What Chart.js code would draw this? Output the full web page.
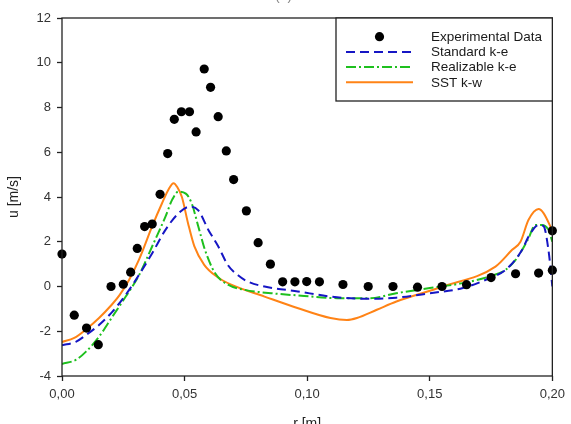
<!DOCTYPE html>
<html><head><meta charset="utf-8">
<script src="https://cdn.jsdelivr.net/npm/chart.js@4/dist/chart.umd.min.js"></script>
<style>html,body{margin:0;padding:0;background:#fff;overflow:hidden}#wrap{width:571px;height:424px}</style>
</head><body><div id="wrap"><canvas id="c" width="571" height="424"></canvas></div>
<script>
const seriesLabels = ['Experimental Data','Standard k-e','Realizable k-e','SST k-w'];
const chartTitle = '(a)';
const xAxisTitle = 'r [m]';
const yAxisTitle = 'u [m/s]';
const xTickValues = [0, 0.05, 0.10, 0.15, 0.20];
const xTickLabels = ['0,00','0,05','0,10','0,15','0,20'];
const yTickValues = [-4,-2,0,2,4,6,8,10,12];

const expX = [0,0.005,0.010,0.0148,0.020,0.025,0.028,0.0307,0.0337,0.0368,0.040,0.0431,0.0458,0.0487,0.052,0.0547,0.058,0.0606,0.0637,0.067,0.070,0.0752,0.080,0.085,0.090,0.095,0.0998,0.105,0.1146,0.1249,0.135,0.145,0.155,0.165,0.175,0.185,0.1944,0.200,0.200];
const expY = [1.45,-1.28,-1.86,-2.6,0,0.1,0.64,1.7,2.68,2.79,4.12,5.94,7.47,7.81,7.81,6.91,9.72,8.9,7.59,6.06,4.78,3.38,1.96,1.0,0.21,0.21,0.22,0.21,0.09,0,0,-0.03,0,0.08,0.4,0.57,0.6,0.73,2.49];

const stdX = [0,0.0058,0.0099,0.0152,0.0206,0.026,0.0314,0.0368,0.0422,0.0476,0.0523,0.0556,0.0597,0.0637,0.0677,0.0718,0.0758,0.0826,0.0962,0.1097,0.1232,0.1363,0.15,0.1635,0.1743,0.181,0.1877,0.1903,0.1944,0.1964,0.1984,0.200];
const stdY = [-2.63,-2.46,-2.16,-1.71,-1.12,-0.37,0.52,1.49,2.53,3.28,3.57,3.4,2.53,1.8,0.95,0.5,0.22,0.0,-0.22,-0.45,-0.55,-0.5,-0.3,-0.07,0.37,0.75,1.64,2.23,2.75,2.7,1.64,0.0];

const relX = [0,0.0058,0.0099,0.0152,0.0206,0.026,0.0314,0.0368,0.0422,0.0449,0.0475,0.0505,0.0529,0.0556,0.0583,0.0624,0.0677,0.0745,0.0853,0.0988,0.1122,0.1257,0.1363,0.15,0.1635,0.1743,0.181,0.185,0.1877,0.1903,0.193,0.1957,0.1984,0.200];
const relY = [-3.46,-3.27,-2.9,-2.23,-1.34,-0.45,0.5,1.8,3.12,3.87,4.24,4.15,3.72,2.68,1.64,0.6,0.08,-0.15,-0.3,-0.42,-0.52,-0.52,-0.3,-0.07,0.15,0.45,0.75,1.19,1.64,2.16,2.75,2.75,2.53,2.0];

const sstX = [0,0.005,0.010,0.015,0.020,0.0234,0.0274,0.0314,0.0368,0.0408,0.0435,0.0455,0.047,0.0489,0.0514,0.054,0.058,0.0637,0.069,0.0826,0.096,0.1095,0.1162,0.1203,0.1284,0.1364,0.1553,0.1768,0.1836,0.187,0.1903,0.1944,0.1964,0.200];
const sstY = [-2.48,-2.3,-1.9,-1.42,-0.85,-0.4,0.3,1.2,2.7,3.72,4.35,4.62,4.45,4.0,2.83,1.79,0.97,0.4,0.08,-0.45,-0.96,-1.41,-1.5,-1.41,-1.04,-0.67,0,0.89,1.64,2.0,2.98,3.46,3.28,2.5];

const pts = (xs, ys) => xs.map((x, i) => ({x: x, y: ys[i]}));
const FONT = 'Liberation Sans, Arial, sans-serif';

const framePlugin = {
  id: 'frameAndLegend',
  afterDraw(chart) {
    const ctx = chart.ctx, a = chart.chartArea;
    ctx.save();
    ctx.strokeStyle = '#222'; ctx.lineWidth = 1.3;
    ctx.strokeRect(a.left, a.top, a.right - a.left, a.bottom - a.top);
    // titles
    ctx.fillStyle = '#888'; ctx.font = '14px ' + FONT; ctx.textAlign = 'center'; ctx.textBaseline = 'alphabetic';
    ctx.fillText(chartTitle, 283.5, -0.5);
    ctx.fillStyle = '#222';
    ctx.fillText(xAxisTitle, (a.left + a.right) / 2, 428);
    ctx.save(); ctx.translate(14.5, (a.top + a.bottom) / 2); ctx.rotate(-Math.PI / 2);
    ctx.textBaseline = 'middle'; ctx.fillText(yAxisTitle, 0, 0); ctx.restore();
    // legend box
    const bx = 336, by = a.top, bw = a.right - bx, bh = 83;
    ctx.fillStyle = '#fff'; ctx.fillRect(bx, by, bw, bh);
    ctx.strokeStyle = '#222'; ctx.lineWidth = 1.3; ctx.strokeRect(bx, by, bw, bh);
    const ds = chart.data.datasets;
    for (let i = 0; i < ds.length; i++) {
      const y = by + 18.7 + i * 15.2;
      if (i === 0) {
        ctx.beginPath(); ctx.fillStyle = '#000'; ctx.arc(379.5, y, 4.6, 0, Math.PI * 2); ctx.fill();
      } else {
        ctx.beginPath(); ctx.strokeStyle = ds[i].borderColor; ctx.lineWidth = ds[i].borderWidth;
        ctx.setLineDash(ds[i].borderDash || []); ctx.moveTo(346, y); ctx.lineTo(413, y); ctx.stroke(); ctx.setLineDash([]);
      }
      ctx.fillStyle = '#1a1a1a'; ctx.font = '13.5px ' + FONT; ctx.textAlign = 'left'; ctx.textBaseline = 'middle';
      ctx.fillText(ds[i].label, 431, y + 0.5);
    }
    ctx.restore();
  }
};

new Chart(document.getElementById('c'), {
  type: 'scatter',
  data: { datasets: [
    { label: seriesLabels[0], data: pts(expX, expY), showLine: false, pointRadius: 4.6, pointBackgroundColor: '#000', pointBorderColor: '#000', pointBorderWidth: 0, clip: false },
    { label: seriesLabels[1], data: pts(stdX, stdY), showLine: true, borderColor: '#1616c4', borderWidth: 2, borderDash: [9,5], pointRadius: 0, cubicInterpolationMode: 'monotone' },
    { label: seriesLabels[2], data: pts(relX, relY), showLine: true, borderColor: '#1ec01e', borderWidth: 2, borderDash: [10,3,2,3], pointRadius: 0, cubicInterpolationMode: 'monotone' },
    { label: seriesLabels[3], data: pts(sstX, sstY), showLine: true, borderColor: '#ff8316', borderWidth: 2, pointRadius: 0, cubicInterpolationMode: 'monotone' }
  ]},
  options: {
    responsive: false, animation: false, devicePixelRatio: 1,
    layout: { padding: { top: 18, right: 14, left: 0, bottom: 0 } },
    plugins: { legend: { display: false }, tooltip: { enabled: false } },
    scales: {
      x: { type: 'linear', min: 0, max: 0.2,
        afterBuildTicks(s) { s.ticks = xTickValues.map(v => ({ value: v })); },
        afterFit(s) { s.height = 48; },
        ticks: { callback: (v, i) => xTickLabels[i], font: { family: FONT, size: 13 }, color: '#333', padding: 6, maxRotation: 0, autoSkip: false },
        grid: { drawOnChartArea: false, tickLength: 5, color: '#222', tickWidth: 1.3 },
        border: { display: false } },
      y: { type: 'linear', min: -4, max: 12,
        afterBuildTicks(s) { s.ticks = yTickValues.map(v => ({ value: v })); },
        afterFit(s) { s.width = 62; },
        ticks: { font: { family: FONT, size: 13 }, color: '#333', padding: 6, autoSkip: false },
        grid: { drawOnChartArea: false, tickLength: 5, color: '#222', tickWidth: 1.3 },
        border: { display: false } }
    }
  },
  plugins: [framePlugin]
});
</script></body></html>
